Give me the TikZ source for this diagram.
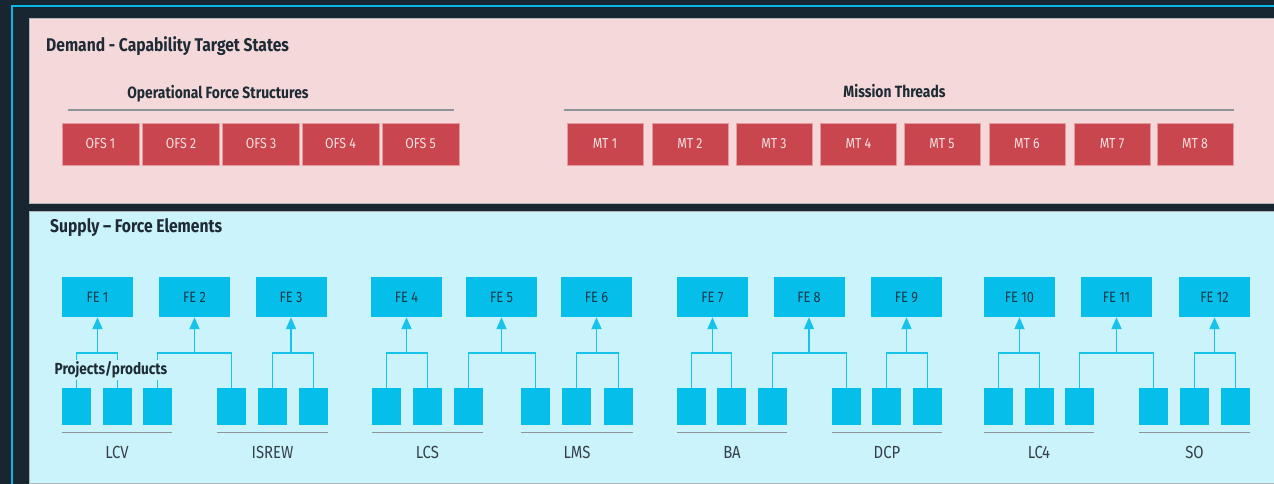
\documentclass[tikz,border=0pt]{standalone}
\usepackage{fontspec}
\setmainfont{Fira Sans}[FakeStretch=0.85]
\usetikzlibrary{arrows.meta,calc}
\definecolor{navy}{HTML}{172630}
\definecolor{framecyan}{HTML}{0AB8E6}
\definecolor{pinkbg}{HTML}{F5D9DA}
\definecolor{bluebg}{HTML}{CAF3FC}
\definecolor{redbox}{HTML}{C9464E}
\definecolor{redline}{HTML}{E59A9F}
\definecolor{cyanbox}{HTML}{05BFEA}
\definecolor{linkcyan}{HTML}{18C3EB}
\definecolor{darktxt}{HTML}{1E2B35}
\definecolor{rulegray}{HTML}{8E9598}
\definecolor{redtxt}{HTML}{F8E2E3}
\definecolor{fetxt}{HTML}{163848}
\tikzset{
  ofsbox/.style={fill=redbox, draw=redline, line width=0.8pt, minimum width=77pt, minimum height=42pt, inner sep=0pt, text=redtxt, font=\fontsize{14.5}{14.5}\selectfont},
  mtbox/.style={ofsbox, minimum width=76pt},
  febox/.style={fill=cyanbox, minimum width=71pt, minimum height=40pt, inner sep=0pt, text=fetxt, font=\fontsize{15}{15}\selectfont},
  prodbox/.style={fill=cyanbox, minimum width=29pt, minimum height=37pt, inner sep=0pt},
  link/.style={draw=linkcyan, line width=1.8pt},
  uparrow/.style={link, -{Triangle[length=12pt,width=10pt]}},
  grouprule/.style={draw=rulegray, line width=1.4pt},
  grouplabel/.style={text=darktxt!90, font=\fontsize{17.5}{17.5}\selectfont, inner sep=0pt},
  heading/.style={text=darktxt, font=\fontsize{16.3}{16.3}\selectfont\bfseries, inner sep=0pt},
  paneltitle/.style={text=darktxt, font=\fontsize{18.4}{18.4}\selectfont\bfseries, inner sep=0pt, anchor=west},
}
\begin{document}
\begin{tikzpicture}[x=1pt,y=-1pt]
\useasboundingbox (0,0) rectangle (1274,484);
\fill[navy] (0,0) rectangle (1274,484);
% frame line
\draw[framecyan, line width=2.4pt] (12,490) -- (12,6) -- (1280,6);
% panels
\draw[fill=pinkbg, draw=rulegray!70, line width=0.8pt] (29,18) rectangle (1285,203);
\draw[fill=bluebg, draw=rulegray!70, line width=0.8pt] (29,211) rectangle (1285,483);

% demand panel
\node[paneltitle] (demand) at (46,46) {Demand - Capability Target States};
\node[heading] (ofshead) at (218,94) {Operational Force Structures};
\node[heading] (mthead) at (894.5,91) {Mission Threads};
\coordinate (ofsrA) at (68,110);
\coordinate (ofsrB) at (454,110);
\coordinate (mtrA) at (564,110);
\coordinate (mtrB) at (1234,110);
\draw[grouprule] (ofsrA) -- (ofsrB);
\draw[grouprule] (mtrA) -- (mtrB);
\foreach \x [count=\i] in {100.5,181,261,340.5,420.5}
  \node[ofsbox] (ofs\i) at (\x,144) {OFS \i};
\foreach \x [count=\i] in {605,690,774,858.5,942,1027,1112,1195}
  \node[mtbox] (mt\i) at (\x,144) {MT \i};

% supply panel
\node[paneltitle] (supply) at (50,228) {Supply – Force Elements};
\foreach \x [count=\i] in {97.5,194.5,291,406.5,501.5,596.5,712.5,809,906.5,1019.5,1116.5,1214.5}
  \node[febox] (fe\i) at (\x,297) {FE \i};
\foreach \x [count=\i] in {62,103,143,217,258,299, 372,413,454,521,562,604, 677,717,758,832,872,913, 984,1025,1065,1139,1180,1221}
  \node[prodbox] (p\i) at (\x+14.5,406.5) {};
\coordinate (bar) at (0,353);
% trees
\foreach \f/\a/\b in {1/1/2,2/3/4,3/5/6,4/7/8,5/9/10,6/11/12,7/13/14,8/15/16,9/17/18,10/19/20,11/21/22,12/23/24}{
  \draw[link] (p\a.north) -- (p\a.north |- bar) -- (p\b.north |- bar) -- (p\b.north);
  \draw[uparrow] (fe\f.south |- bar) -- (fe\f.south);
}
% group rules and labels
\foreach \a/\b/\t/\n in {1/3/LCV/g1,4/6/ISREW/g2,7/9/LCS/g3,10/12/LMS/g4,13/15/BA/g5,16/18/DCP/g6,19/21/LC4/g7,22/24/SO/g8}{
  \coordinate (\n A) at ([yshift=-7pt]p\a.south west);
  \coordinate (\n B) at ([yshift=-7pt]p\b.south east);
  \draw[grouprule] (\n A) -- (\n B);
  \node[grouplabel] (\n lab) at ($(\n A)!0.5!(\n B)+(0,20)$) {\t};
}
\node[fill=bluebg, text=darktxt, font=\fontsize{16}{16}\selectfont\bfseries, inner xsep=1pt, inner ysep=2pt] (projects) at (111,370) {Projects/products};
\end{tikzpicture}
\end{document}
